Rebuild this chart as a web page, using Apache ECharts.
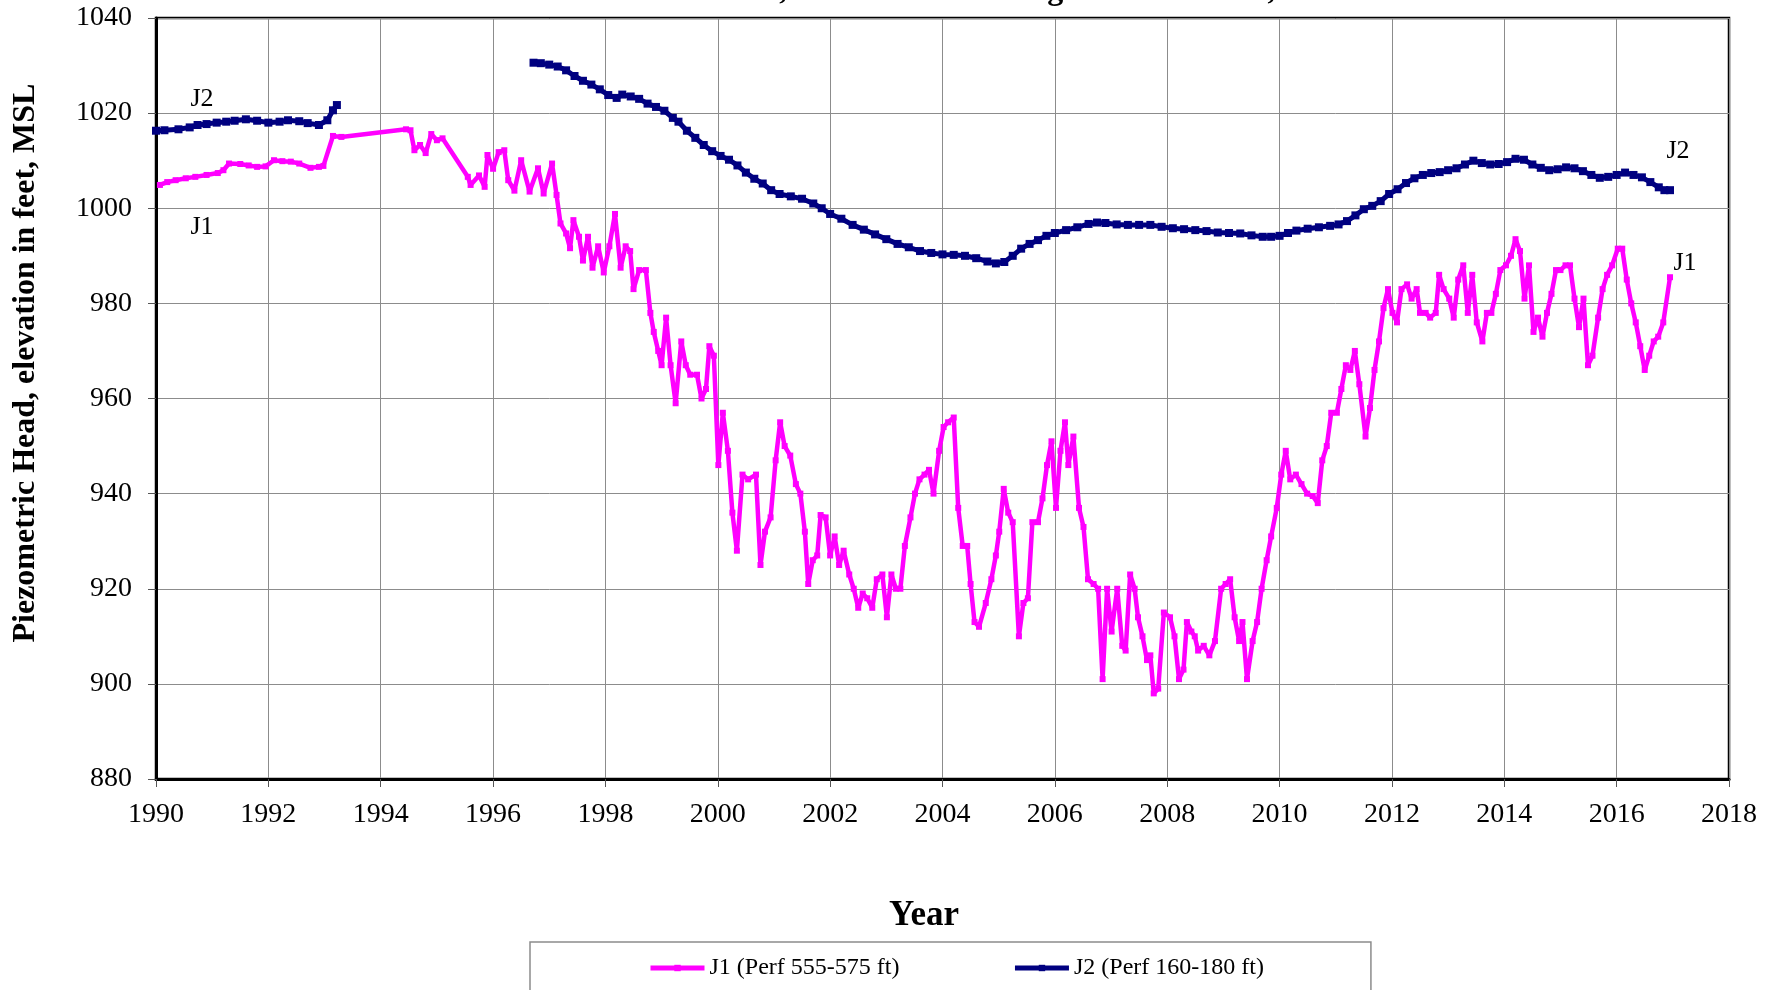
<!DOCTYPE html>
<html>
<head>
<meta charset="utf-8">
<script src="https://cdn.jsdelivr.net/npm/echarts@6/dist/echarts.min.js"></script>
<style>
html,body{margin:0;padding:0;background:#fff;}
#chart{width:1780px;height:990px;}
</style>
</head>
<body>
<div id="chart"></div>
<script>
// ---- Data (decimal year, piezometric head ft MSL) ----
const j1Years = [1990.07,1990.2,1990.35,1990.53,1990.7,1990.9,1991.1,1991.2,1991.3,1991.5,1991.65,1991.8,1991.95,1992.1,1992.25,1992.4,1992.55,1992.75,1992.9,1992.98,1993.15,1993.3,
1994.45,1994.53,1994.6,1994.7,1994.8,1994.9,1995.0,1995.1,1995.55,1995.6,1995.75,1995.85,1995.9,1996.0,1996.1,1996.2,1996.27,1996.38,1996.5,1996.65,1996.8,1996.9,
1997.05,1997.13,1997.2,1997.3,1997.37,1997.43,1997.53,1997.6,1997.69,1997.77,1997.87,1997.97,1998.07,1998.17,1998.27,1998.36,1998.44,1998.5,1998.6,1998.72,1998.8,1998.86,1998.94,
1999.0,1999.08,1999.16,1999.25,1999.35,1999.43,1999.51,1999.63,1999.71,1999.79,1999.85,1999.93,2000.01,2000.09,2000.18,2000.26,2000.34,2000.44,2000.54,2000.68,2000.76,2000.84,2000.94,
2001.03,2001.11,2001.19,2001.29,2001.39,2001.47,2001.55,2001.61,2001.69,2001.77,2001.83,2001.92,2002.0,2002.08,2002.16,2002.24,2002.34,2002.42,2002.5,2002.58,2002.66,2002.75,2002.83,2002.93,
2003.01,2003.09,2003.17,2003.25,2003.33,2003.43,2003.51,2003.59,2003.68,2003.76,2003.84,2003.94,2004.02,2004.1,2004.2,2004.28,2004.36,2004.44,2004.5,2004.57,2004.65,2004.77,2004.87,2004.95,
2005.01,2005.09,2005.17,2005.25,2005.36,2005.44,2005.52,2005.6,2005.7,2005.78,2005.86,2005.94,2006.02,2006.1,2006.18,2006.24,2006.33,2006.43,2006.51,2006.59,2006.69,2006.77,2006.85,2006.93,
2007.01,2007.11,2007.2,2007.26,2007.34,2007.42,2007.48,2007.56,2007.64,2007.7,2007.76,2007.84,2007.94,2008.05,2008.13,2008.21,2008.29,2008.35,2008.43,2008.49,2008.55,2008.65,2008.75,2008.85,2008.96,
2009.04,2009.12,2009.2,2009.28,2009.34,2009.42,2009.52,2009.6,2009.68,2009.77,2009.85,2009.95,2010.03,2010.11,2010.19,2010.29,2010.39,2010.49,2010.59,2010.68,2010.76,2010.84,2010.92,
2011.02,2011.1,2011.18,2011.26,2011.34,2011.42,2011.53,2011.61,2011.69,2011.77,2011.85,2011.93,2012.01,2012.09,2012.17,2012.27,2012.35,2012.44,2012.5,2012.6,2012.68,2012.78,2012.84,2012.92,
2013.02,2013.1,2013.18,2013.27,2013.35,2013.43,2013.51,2013.61,2013.69,2013.77,2013.85,2013.93,2014.03,2014.12,2014.2,2014.28,2014.36,2014.44,2014.52,2014.6,2014.68,2014.76,2014.84,2014.92,
2015.0,2015.09,2015.17,2015.25,2015.33,2015.41,2015.49,2015.57,2015.67,2015.75,2015.83,2015.92,2016.02,2016.1,2016.18,2016.26,2016.34,2016.42,2016.5,2016.58,2016.66,2016.74,2016.83,2016.95];

const j1Head = [1004.9,1005.5,1005.9,1006.3,1006.6,1007.0,1007.4,1008.0,1009.4,1009.3,1009.0,1008.7,1008.8,1010.1,1009.9,1009.8,1009.4,1008.5,1008.7,1008.9,1015.2,1015.0,
1016.6,1016.4,1012.2,1013.3,1011.6,1015.6,1014.3,1014.7,1006.6,1004.9,1006.9,1004.5,1011.2,1008.3,1011.8,1012.2,1005.9,1003.7,1010.1,1003.5,1008.4,1003.1,
1009.4,1002.8,996.8,994.7,991.6,997.5,994.0,989.0,994.0,987.5,992.0,986.5,992.0,998.8,987.5,992.0,991.0,983.0,987.0,987.0,978.0,974.0,970.0,
967.0,977.0,967.0,959.0,972.0,967.0,965.0,965.0,960.0,962.0,971.0,969.0,946.0,957.0,949.0,936.0,928.0,944.0,943.0,944.0,925.0,932.0,935.0,
947.0,955.0,950.0,948.0,942.0,940.0,932.0,921.0,926.0,927.0,935.5,935.0,927.0,931.0,925.0,928.0,923.0,920.0,916.0,919.0,918.0,916.0,922.0,923.0,
914.0,923.0,920.0,920.0,929.0,935.0,940.0,943.0,944.0,945.0,940.0,949.0,954.0,955.0,956.0,937.0,929.0,929.0,921.0,913.0,912.0,917.0,922.0,927.0,
932.0,941.0,936.0,934.0,910.0,917.0,918.0,934.0,934.0,939.0,946.0,951.0,937.0,949.0,955.0,946.0,952.0,937.0,933.0,922.0,921.0,920.0,901.0,920.0,
911.0,920.0,908.0,907.0,923.0,920.0,914.0,910.0,905.0,906.0,898.0,899.0,915.0,914.0,910.0,901.0,903.0,913.0,911.0,910.0,907.0,908.0,906.0,909.0,920.0,
921.0,922.0,914.0,909.0,913.0,901.0,909.0,913.0,920.0,926.0,931.0,937.0,944.0,949.0,943.0,944.0,942.0,940.0,939.5,938.0,947.0,950.0,957.0,
957.0,962.0,967.0,966.0,970.0,963.0,952.0,958.0,966.0,972.0,979.0,983.0,978.0,976.0,983.0,984.0,981.0,983.0,978.0,978.0,977.0,978.0,986.0,983.0,
981.0,977.0,985.0,988.0,978.0,986.0,976.0,972.0,978.0,978.0,982.0,987.0,988.0,990.0,993.5,991.0,981.0,988.0,974.0,977.0,973.0,978.0,982.0,987.0,
987.0,988.0,988.0,981.0,975.0,981.0,967.0,969.0,977.0,983.0,986.0,988.0,991.5,991.5,985.0,980.0,976.0,971.0,966.0,969.0,972.0,973.0,976.0,985.5];

// null marks the data gap (line break) in J2
const j2Years = [1990.0,1990.15,1990.4,1990.6,1990.74,1990.9,1991.08,1991.25,1991.4,1991.6,1991.8,1992.0,1992.2,1992.35,1992.55,1992.7,1992.9,1993.05,1993.15,1993.22,
1995.0,
1996.72,1996.85,1997.0,1997.15,1997.3,1997.45,1997.6,1997.75,1997.9,1998.05,1998.2,1998.3,1998.45,1998.6,1998.75,1998.9,1999.05,1999.2,1999.3,1999.45,1999.6,1999.75,1999.9,
2000.05,2000.2,2000.35,2000.5,2000.65,2000.8,2000.95,2001.1,2001.3,2001.5,2001.7,2001.85,2002.0,2002.2,2002.4,2002.6,2002.8,2003.0,2003.2,2003.4,2003.6,2003.8,
2004.0,2004.2,2004.4,2004.6,2004.8,2004.95,2005.1,2005.25,2005.4,2005.55,2005.7,2005.85,2006.0,2006.2,2006.4,2006.6,2006.75,2006.9,2007.1,2007.3,2007.5,2007.7,2007.9,
2008.1,2008.3,2008.5,2008.7,2008.9,2009.1,2009.3,2009.5,2009.7,2009.85,2010.0,2010.15,2010.3,2010.5,2010.7,2010.9,2011.05,2011.2,2011.35,2011.5,2011.65,2011.8,2011.95,
2012.1,2012.25,2012.4,2012.55,2012.7,2012.85,2013.0,2013.15,2013.3,2013.45,2013.6,2013.75,2013.9,2014.05,2014.2,2014.35,2014.5,2014.65,2014.8,2014.95,
2015.1,2015.25,2015.4,2015.55,2015.7,2015.85,2016.0,2016.15,2016.3,2016.45,2016.6,2016.75,2016.85,2016.95];

const j2Head = [1016.3,1016.4,1016.6,1017.0,1017.5,1017.7,1018.0,1018.2,1018.4,1018.7,1018.4,1018.0,1018.2,1018.5,1018.3,1017.9,1017.5,1018.5,1020.6,1021.7,
null,
1030.6,1030.5,1030.2,1029.8,1029.0,1027.8,1026.8,1026.0,1025.0,1023.8,1023.2,1023.9,1023.5,1023.0,1022.0,1021.3,1020.5,1019.0,1018.2,1016.3,1014.8,1013.3,1012.0,
1011.0,1010.2,1009.0,1007.5,1006.2,1005.2,1003.8,1003.0,1002.5,1002.0,1001.0,1000.0,998.8,997.8,996.5,995.5,994.5,993.5,992.5,991.8,991.0,990.6,
990.3,990.2,990.0,989.5,988.8,988.4,988.7,990.0,991.5,992.5,993.3,994.2,994.8,995.4,996.0,996.7,997.0,996.9,996.6,996.5,996.5,996.5,996.1,
995.8,995.6,995.4,995.2,994.9,994.8,994.7,994.3,994.0,994.0,994.2,994.8,995.3,995.7,996.0,996.3,996.6,997.3,998.5,999.8,1000.5,1001.5,1003.0,
1004.0,1005.3,1006.3,1007.0,1007.4,1007.6,1008.0,1008.4,1009.2,1010.0,1009.5,1009.2,1009.3,1009.7,1010.4,1010.2,1009.2,1008.5,1008.0,1008.2,
1008.6,1008.4,1007.8,1007.0,1006.4,1006.6,1007.0,1007.5,1007.0,1006.5,1005.5,1004.4,1003.8,1003.8];

const xTicks = {min: 1990, max: 2018, step: 2};
const yTicks = {min: 880, max: 1040, step: 20};
const seriesNames = ['J1 (Perf 555-575 ft)', 'J2 (Perf 160-180 ft)'];

// ---- Build ----
const pairs = (xs, ys) => xs.map((x, i) => [x, ys[i] === null ? '-' : ys[i]]);
const SERIF = '"Liberation Serif", "Times New Roman", serif';

const chart = echarts.init(document.getElementById('chart'), null, {renderer: 'canvas'});
chart.setOption({
  animation: false,
  backgroundColor: '#ffffff',
  grid: {
    left: 156, top: 18, right: 51, bottom: 211,
    show: true, borderColor: '#000', borderWidth: 2.5, backgroundColor: 'transparent'
  },
  xAxis: {
    type: 'value', min: xTicks.min, max: xTicks.max, interval: xTicks.step,
    axisLine: {show: true, onZero: false, lineStyle: {color: '#000', width: 3}},
    axisTick: {show: true, length: 8, lineStyle: {color: '#555', width: 1}},
    splitLine: {show: true, lineStyle: {color: '#8c8c8c', width: 1}},
    axisLabel: {color: '#000', fontFamily: SERIF, fontSize: 28, margin: 22,
      formatter: v => String(v)}
  },
  yAxis: {
    type: 'value', min: yTicks.min, max: yTicks.max, interval: yTicks.step,
    axisLine: {show: true, onZero: false, lineStyle: {color: '#000', width: 3}},
    axisTick: {show: true, length: 8, lineStyle: {color: '#555', width: 1}},
    splitLine: {show: true, lineStyle: {color: '#8c8c8c', width: 1}},
    axisLabel: {color: '#000', fontFamily: SERIF, fontSize: 28, margin: 24,
      formatter: v => String(v)}
  },
  legend: {
    left: 530, top: 942,
    data: seriesNames,
    itemWidth: 54, itemHeight: 8, itemGap: 113,
    padding: [14, 107, 40, 118],
    borderColor: '#8c8c8c', borderWidth: 1.5,
    lineStyle: {width: 5},
    textStyle: {color: '#000', fontFamily: SERIF, fontSize: 24}
  },
  graphic: [
    {type: 'text', style: {text: 'Well J1 & J2, Water Level through December 31, 2016',
      x: 975, y: 7, align: 'center', verticalAlign: 'bottom',
      font: 'bold 32px ' + SERIF, fill: '#000'}},
    {type: 'text', style: {text: 'Piezometric Head, elevation in feet, MSL', x: 0, y: 0,
      align: 'center', verticalAlign: 'middle', font: 'bold 32px ' + SERIF, fill: '#000'},
      x: 26, y: 363, rotation: Math.PI / 2},
    {type: 'text', style: {text: 'Year', x: 924, y: 916, align: 'center', verticalAlign: 'middle',
      font: 'bold 35px ' + SERIF, fill: '#000'}},
    {type: 'text', style: {text: 'J2', x: 202, y: 99, align: 'center', verticalAlign: 'middle', font: '26px ' + SERIF, fill: '#000'}},
    {type: 'text', style: {text: 'J1', x: 202, y: 227, align: 'center', verticalAlign: 'middle', font: '26px ' + SERIF, fill: '#000'}},
    {type: 'text', style: {text: 'J2', x: 1678, y: 151, align: 'center', verticalAlign: 'middle', font: '26px ' + SERIF, fill: '#000'}},
    {type: 'text', style: {text: 'J1', x: 1685, y: 263, align: 'center', verticalAlign: 'middle', font: '26px ' + SERIF, fill: '#000'}}
  ],
  series: [
    {
      name: seriesNames[0], type: 'line', data: pairs(j1Years, j1Head),
      symbol: 'rect', symbolSize: 6, showAllSymbol: true,
      lineStyle: {color: '#ff00ff', width: 4.5},
      itemStyle: {color: '#ff00ff'},
      connectNulls: false, z: 3
    },
    {
      name: seriesNames[1], type: 'line', data: pairs(j2Years, j2Head),
      symbol: 'rect', symbolSize: 8, showAllSymbol: true,
      lineStyle: {color: '#000080', width: 5},
      itemStyle: {color: '#000080'},
      connectNulls: false, z: 4
    }
  ]
});
</script>
</body>
</html>
